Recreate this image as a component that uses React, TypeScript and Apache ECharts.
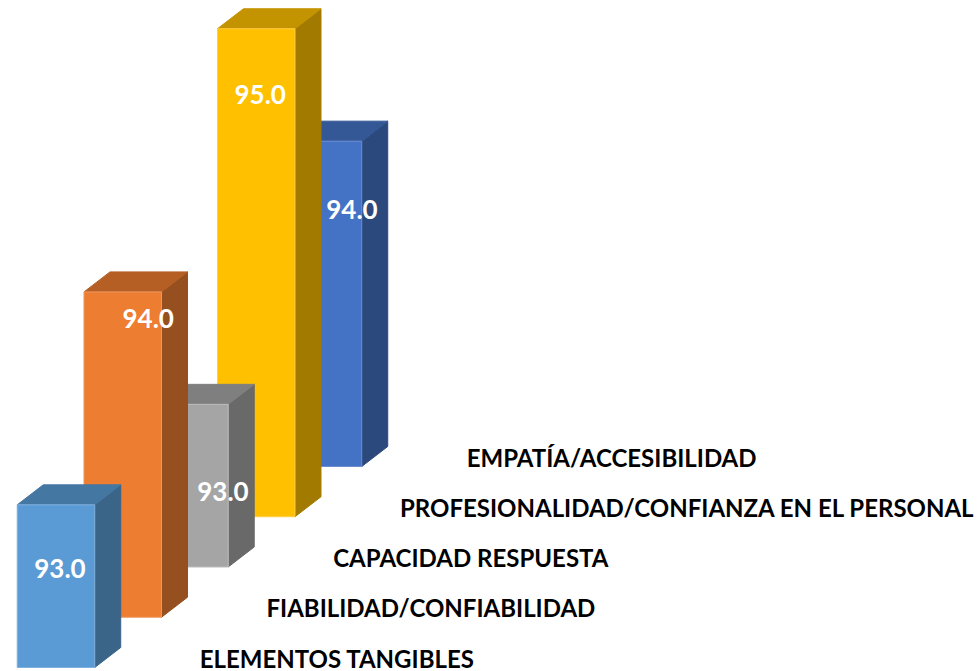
import React, { useEffect, useRef } from "react";
import * as echarts from "echarts";

const categories = [
  "ELEMENTOS TANGIBLES",
  "FIABILIDAD/CONFIABILIDAD",
  "CAPACIDAD RESPUESTA",
  "PROFESIONALIDAD/CONFIANZA EN EL PERSONAL",
  "EMPATÍA/ACCESIBILIDAD",
];
const values = [93, 94, 93, 95, 94];
const valueLabels = ["93.0", "94.0", "93.0", "95.0", "94.0"];

const frontColors = ["#5B9BD5", "#ED7D31", "#A5A5A5", "#FFC000", "#4472C4"];
const sideColors = ["#3A6589", "#96501F", "#696969", "#A37A00", "#2C497E"];
const topColors = ["#4577A3", "#B55F25", "#7F7F7F", "#C49300", "#345796"];
const edgeColors = ["#7FB0DE", "#F09A62", "#BDBDBD", "#FFCE45", "#6C8ED0"];

// Label centre offset from the front face's centre x and its top y
const labelOffsets = [
  [4, 63],
  [25.5, 26],
  [33.5, 87],
  [4, 65],
  [29, 68],
];

const AXIS_MIN = 92;
const AXIS_MAX = 95;
const BAND = 66.75;
const BAR_W = 77.5;
const DEPTH_X = 26;
const DEPTH_Y = 20;
const STEP_Y = 50.25;
const FONT = '"Lato", "Noto Sans", sans-serif';

export default function App() {
  const ref = useRef<HTMLDivElement>(null);

  useEffect(() => {
    document.body.style.margin = "0";
    const chart = echarts.init(ref.current!, undefined, { renderer: "svg" });
    chart.setOption({
      animation: false,
      backgroundColor: "#ffffff",
      tooltip: { show: false },
      grid: { left: 22.6, top: 179.5, width: BAND * categories.length, height: 488 },
      xAxis: { type: "category", data: categories, show: false },
      yAxis: { type: "value", min: AXIS_MIN, max: AXIS_MAX, interval: 1, show: false },
      series: [
        {
          type: "custom",
          silent: true,
          clip: false,
          coordinateSystem: "cartesian2d",
          data: values.map((v, i) => [i, v]),
          renderItem: (params: any, api: any) => {
            const i = api.value(0);
            const base = api.coord([i, AXIS_MIN]);
            const top = api.coord([i, api.value(1)]);
            const shift = STEP_Y * i;
            const x0 = base[0] - BAR_W / 2;
            const x1 = base[0] + BAR_W / 2;
            const yb = base[1] - shift;
            const yt = top[1] - shift;
            const z = 100 - i * 10;
            const poly = (points: number[][], fill: string, stroke: string, z2: number) => ({
              type: "polygon",
              z2,
              shape: { points },
              style: { fill, stroke, lineWidth: 1 },
            });
            const [ox, oy] = labelOffsets[i];
            return {
              type: "group",
              children: [
                poly(
                  [[x1, yt], [x1 + DEPTH_X, yt - DEPTH_Y], [x1 + DEPTH_X, yb - DEPTH_Y], [x1, yb]],
                  sideColors[i], sideColors[i], z
                ),
                poly(
                  [[x0, yt], [x0 + DEPTH_X, yt - DEPTH_Y], [x1 + DEPTH_X, yt - DEPTH_Y], [x1, yt]],
                  topColors[i], topColors[i], z + 1
                ),
                poly(
                  [[x0, yt], [x1, yt], [x1, yb], [x0, yb]],
                  frontColors[i], edgeColors[i], z + 2
                ),
                {
                  type: "text",
                  z2: 500,
                  style: {
                    text: valueLabels[i],
                    x: base[0] + ox,
                    y: yt + oy,
                    align: "center",
                    verticalAlign: "middle",
                    fill: "#ffffff",
                    font: `bold 26px ${FONT}`,
                  },
                },
                {
                  type: "text",
                  z2: 500,
                  style: {
                    text: categories[i],
                    x: x0 + 182.5,
                    y: yb - 9.5,
                    align: "left",
                    verticalAlign: "middle",
                    fill: "#000000",
                    font: `bold 24px ${FONT}`,
                  },
                },
              ],
            };
          },
        },
      ],
    });
    return () => chart.dispose();
  }, []);

  return <div ref={ref} style={{ width: 977, height: 671 }} />;
}
